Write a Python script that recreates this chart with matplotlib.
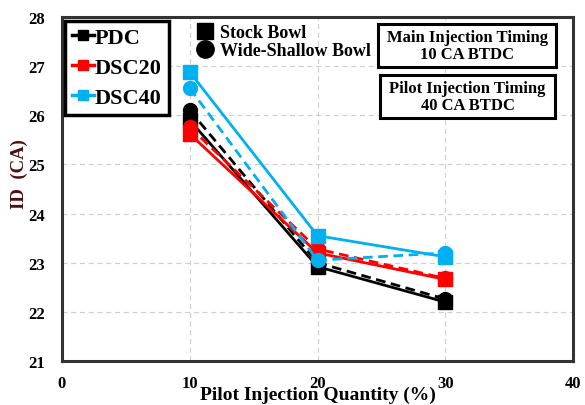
import matplotlib
matplotlib.use("Agg")
import matplotlib.pyplot as plt
from matplotlib.lines import Line2D
from matplotlib.patches import Rectangle

# pilot injection quantity (%)
pilot_qty = [10, 20, 30]

# ignition delay (CA), stock bowl
pdc_stock = [25.90, 22.92, 22.20]
dsc20_stock = [25.62, 23.20, 22.66]
dsc40_stock = [26.88, 23.55, 23.12]

# ignition delay (CA), wide-shallow bowl
pdc_wsb = [26.10, 23.00, 22.26]
dsc20_wsb = [25.76, 23.28, 22.68]
dsc40_wsb = [26.55, 23.05, 23.20]

series = [
    ("PDC", "black", pdc_stock, pdc_wsb),
    ("DSC20", "#ff0000", dsc20_stock, dsc20_wsb),
    ("DSC40", "#00b0f0", dsc40_stock, dsc40_wsb),
]

W, H = 585, 406

plt.rcParams["font.family"] = ["Liberation Serif", "DejaVu Serif"]
plt.rcParams["font.weight"] = "bold"

fig = plt.figure(figsize=(W / 100, H / 100), dpi=100)
ax = fig.add_axes([62 / W, 1 - 362 / H, 511 / W, 344 / H])


def fig_xy(px, py):
    # pixel position from top-left -> figure fraction
    return px / W, 1 - py / H


for name, color, stock, wsb in series:
    ax.plot(pilot_qty, stock, color=color, lw=2.0, marker="s", ms=9.5, zorder=3)
    ax.plot(pilot_qty, wsb, color=color, lw=2.0, ls=(0, (3.5, 2)), marker="o", ms=10, zorder=3)

ax.set_xlim(0, 40)
ax.set_ylim(21, 28)
ax.set_xticks([0, 10, 20, 30, 40])
ax.set_yticks(range(21, 29))
ax.tick_params(axis="x", length=0, labelsize=12, pad=10)
ax.tick_params(axis="y", length=0, labelsize=12, pad=12)
for lbl in ax.get_xticklabels() + ax.get_yticklabels():
    lbl.set_fontweight("bold")
ax.grid(True, color="#d0d0d0", ls=(0, (4, 3)), lw=0.9)
for sp in ax.spines.values():
    sp.set_linewidth(2.2)
    sp.set_color("#333333")

ax.set_xlabel("Pilot Injection Quantity (%)", fontsize=14, fontweight="bold")
ax.xaxis.set_label_coords(0.5, -0.072)
fig.text(*fig_xy(19, 174), "ID  (CA)", rotation=90, fontsize=13.5, fontweight="bold",
         color="#4a1010", ha="center", va="center")

# fuel legend
fuel_handles = [Line2D([], [], color=c, lw=2.5, marker="s", ms=7) for _, c, _, _ in series]
leg1 = ax.legend(fuel_handles, [s[0] for s in series], loc="upper left",
                 bbox_to_anchor=fig_xy(65, 22), bbox_transform=fig.transFigure,
                 borderaxespad=0, handlelength=1.0, handletextpad=0.05,
                 labelspacing=0.42, borderpad=0.3, fancybox=False,
                 prop={"size": 16, "weight": "bold"}, edgecolor="black", framealpha=1)
leg1.get_frame().set_linewidth(2.5)
ax.add_artist(leg1)

# bowl legend
bowl_handles = [Line2D([], [], color="black", lw=0, marker="s", ms=11),
                Line2D([], [], color="black", lw=0, marker="o", ms=12.5)]
ax.legend(bowl_handles, ["Stock Bowl", "Wide-Shallow Bowl"], loc="upper left",
          bbox_to_anchor=fig_xy(196, 25), bbox_transform=fig.transFigure,
          borderaxespad=0, borderpad=0, handlelength=1.0, handletextpad=0.35,
          labelspacing=0.05, frameon=False, prop={"size": 13, "weight": "bold"})

# injection timing notes
notes = [
    ("Main Injection Timing\n10 CA BTDC", (378, 25, 556, 68)),
    ("Pilot Injection Timing\n40 CA BTDC", (380, 76, 555, 119)),
]
for text, (x0, y0, x1, y1) in notes:
    fx0, fy1 = fig_xy(x0, y1)
    fx1, fy0 = fig_xy(x1, y0)
    fig.add_artist(Rectangle((fx0, fy1), fx1 - fx0, fy0 - fy1, transform=fig.transFigure,
                             fc="white", ec="black", lw=2.2, zorder=5))
    fig.text((fx0 + fx1) / 2, (fy0 + fy1) / 2, text, ha="center", va="center",
             fontsize=12, fontweight="bold", linespacing=1.05, zorder=6)

fig.savefig("out.png", dpi=100)
